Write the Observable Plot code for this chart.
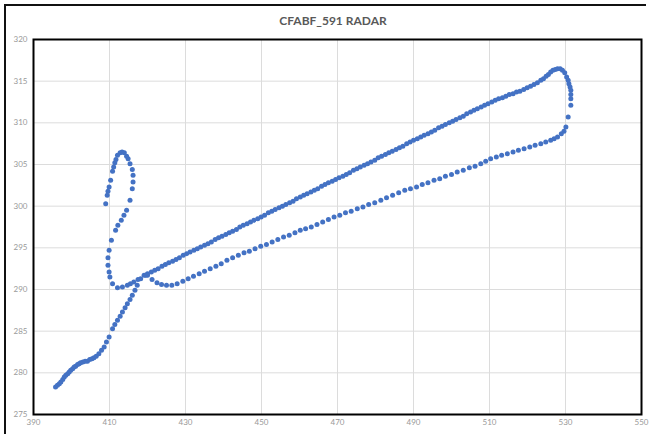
<!DOCTYPE html>
<html>
<head>
<meta charset="utf-8">
<script src="https://cdn.jsdelivr.net/npm/d3@7"></script>
<script src="https://cdn.jsdelivr.net/npm/@observablehq/plot@0.6"></script>
<style>
  html, body { margin: 0; padding: 0; background: #fff; }
  #wrap { position: relative; width: 654px; height: 434px; overflow: hidden; }
  #outer { position: absolute; left: 4px; top: 4px; width: 640px; height: 440px;
           border-top: 2px solid #111; border-left: 2px solid #111; pointer-events: none; }
  #title { position: absolute; left: 233px; width: 200px; top: 13px; text-align: center;
           font-family: Lato, "Open Sans", sans-serif; font-weight: bold; font-size: 12px; color: #595959; }
  #chart { position: absolute; left: 0; top: 0; }
</style>
</head>
<body>
<div id="wrap">
  <div id="chart"></div>
  <div id="outer"></div>
  <div id="title">CFABF_591 RADAR</div>
</div>
<script>
const chartTitle = "CFABF_591 RADAR";
const xTicks = [390, 410, 430, 450, 470, 490, 510, 530, 550];
const yTicks = [275, 280, 285, 290, 295, 300, 305, 310, 315, 320];

// Climb from the lower left
const climbX = [395.8,396.3,396.8,397.2,397.7,398.1,398.5,399.0,399.4,399.8,400.3,400.7,401.1,401.6,402.0,402.4,403.0,403.6,404.2,404.8,405.4,405.9,406.5,407.2,407.9,408.6,409.2,409.9,410.8,411.4,412.1,412.8,413.4,414.1,414.7,415.4,416.0,416.7,417.3,418.2,419.5];
const climbY = [278.3,278.5,278.7,278.9,279.2,279.5,279.7,279.9,280.1,280.3,280.5,280.7,280.8,281.0,281.1,281.2,281.3,281.4,281.4,281.6,281.7,281.8,282.0,282.3,282.7,283.1,283.7,284.3,285.3,285.8,286.3,286.8,287.3,287.8,288.3,288.8,289.3,289.9,290.5,291.3,291.7];

// Upper (outbound) leg
const outX = [419.1,420.0,421.0,421.9,422.8,423.8,424.7,425.6,426.6,427.5,428.4,429.4,430.3,431.2,432.2,433.1,434.0,435.0,435.9,436.8,437.8,438.7,439.6,440.6,441.5,442.4,443.4,444.3,445.2,446.2,447.1,448.0,449.0,449.9,450.8,451.8,452.7,453.6,454.6,455.5,456.4,457.4,458.3,459.2,460.2,461.1,462.0,463.0,463.9,464.8,465.8,466.7,467.6,468.6,469.5,470.4,471.4,472.3,473.2,474.2,475.1,476.0,477.0,477.9,478.8,479.8,480.7,481.6,482.6,483.5,484.4,485.4,486.3,487.2,488.2,489.1,490.0,491.0,491.9,492.8,493.8,494.7,495.6,496.6,497.5,498.4,499.4,500.3,501.2,502.2,503.1,504.0,505.0,505.9,506.8,507.8,508.7,509.6,510.6,511.5,512.4,513.4,514.3,515.2,516.2,517.1,518.0,519.0,519.9,520.8,521.7,522.6,523.5,524.2,524.9,525.5,526.1,526.7,527.3,527.9];
const outY = [291.7,291.9,292.1,292.3,292.5,292.8,293.0,293.2,293.4,293.6,293.8,294.1,294.3,294.5,294.7,294.9,295.1,295.3,295.5,295.7,296.0,296.2,296.4,296.6,296.8,297.0,297.2,297.5,297.7,297.9,298.1,298.3,298.5,298.7,298.9,299.2,299.4,299.6,299.8,300.0,300.2,300.4,300.6,300.9,301.1,301.3,301.5,301.7,301.9,302.1,302.4,302.6,302.8,303.0,303.2,303.4,303.6,303.8,304.0,304.3,304.5,304.7,304.9,305.1,305.3,305.5,305.8,306.0,306.2,306.4,306.6,306.8,307.0,307.2,307.5,307.7,307.9,308.1,308.3,308.5,308.7,308.9,309.1,309.4,309.6,309.8,310.0,310.2,310.4,310.6,310.8,311.1,311.3,311.5,311.7,311.9,312.1,312.3,312.5,312.7,312.9,313.0,313.2,313.4,313.5,313.7,313.8,314.0,314.2,314.4,314.6,314.8,315.1,315.3,315.6,315.8,316.1,316.3,316.4,316.5];

// Turn at the far right
const turnX = [528.6,529.2,529.8,530.3,530.7,530.9,531.2,531.4,531.4,531.4,531.4,530.7,530.1,529.6,528.9,527.9,527.0,526.1];
const turnY = [316.5,316.3,316.0,315.5,315.1,314.7,314.3,313.9,313.4,312.9,312.1,310.7,309.5,309.0,308.7,308.3,308.1,307.9];

// Lower (inbound) leg
const inX = [524.8,523.5,522.0,520.6,519.1,517.6,516.2,514.7,513.2,511.8,510.3,509.0,507.7,506.2,504.7,503.1,501.5,500.0,498.4,496.9,495.4,493.8,492.3,490.8,489.2,487.7,486.1,484.5,482.9,481.4,479.8,478.2,476.7,475.2,473.6,472.1,470.6,469.1,467.6,466.1,464.6,463.1,461.6,460.2,458.8,457.3,455.8,454.3,452.8,451.3,449.8,448.3,446.8,445.4,443.9,442.4,440.9,439.4,438.0,436.5,435.0,433.6,432.1,430.7,429.3,427.8,426.4,425.0,423.7,422.5,421.2,420.0];
const inY = [307.7,307.5,307.3,307.1,306.9,306.7,306.5,306.3,306.1,305.9,305.7,305.4,305.1,304.8,304.6,304.3,304.1,303.8,303.6,303.3,303.1,302.8,302.6,302.3,302.1,301.9,301.6,301.3,301.0,300.7,300.4,300.2,299.9,299.7,299.4,299.2,298.9,298.7,298.4,298.1,297.8,297.5,297.3,297.1,296.8,296.5,296.3,296.0,295.7,295.4,295.2,294.9,294.6,294.4,294.1,293.8,293.5,293.1,292.8,292.5,292.2,291.9,291.6,291.3,291.0,290.7,290.5,290.5,290.6,290.8,291.2,291.7];

// Hook / loop at the left
const loopX = [417.5,416.4,415.5,414.7,413.4,412.1,410.8,410.1,409.9,409.6,409.6,409.9,410.5,411.6,412.2,413.1,413.8,414.5,415.4,416.0,416.2,416.2,416.0,415.4,414.9,414.5,413.9,413.3,412.8,412.1,411.7,411.4,411.1,410.8,410.3,409.9,409.6,409.4,409.0];
const loopY = [291.2,290.9,290.7,290.5,290.3,290.2,290.7,291.5,292.1,292.9,293.8,294.7,295.9,297.1,297.7,298.3,298.9,299.5,300.7,302.1,302.9,303.7,304.4,305.1,305.7,306.0,306.4,306.5,306.4,306.1,305.6,305.2,304.7,304.2,303.1,302.3,301.8,301.3,300.3];

const segments = [[climbX, climbY], [outX, outY], [turnX, turnY], [inX, inY], [loopX, loopY]];
const points = segments.flatMap(([xs, ys]) => xs.map((x, i) => ({x, y: ys[i]})));

const plot = Plot.plot({
  width: 654,
  height: 434,
  marginLeft: 33,
  marginRight: 13,
  marginTop: 39,
  marginBottom: 20,
  style: { fontFamily: "Lato, 'Open Sans', sans-serif", fontSize: "8px", color: "#999", background: "transparent" },
  x: { domain: [390, 550], label: null },
  y: { domain: [275, 320], label: null },
  marks: [
    Plot.gridX(xTicks, { stroke: "#dcdcdc", strokeOpacity: 1 }),
    Plot.gridY(yTicks, { stroke: "#dcdcdc", strokeOpacity: 1 }),
    Plot.axisX({ ticks: xTicks, tickSize: 0, tickPadding: 5, label: null, fill: "#999" }),
    Plot.axisY({ ticks: yTicks, tickSize: 0, tickPadding: 6, label: null, fill: "#999" }),
    Plot.frame({ stroke: "#000", strokeWidth: 2 }),
    Plot.dot(points, { x: "x", y: "y", r: 2.5, fill: "#4472c4", stroke: "none" })
  ]
});
document.getElementById("chart").appendChild(plot);
document.getElementById("title").textContent = chartTitle;
</script>
</body>
</html>
